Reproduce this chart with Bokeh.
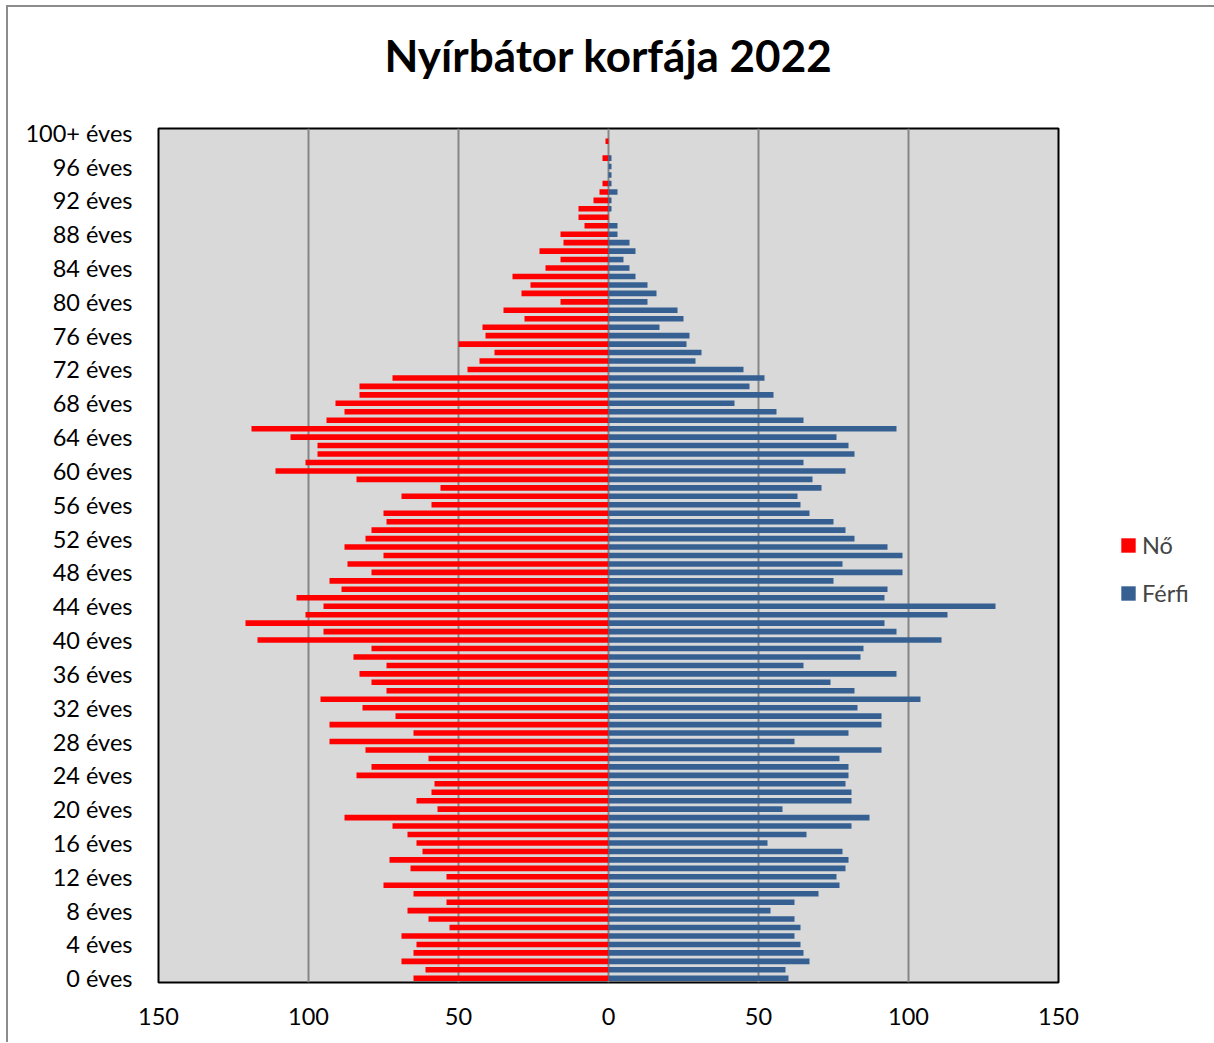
from bokeh.plotting import figure
from bokeh.models import Legend, LegendItem, FixedTicker, Title
from bokeh.embed import file_html
from bokeh.resources import INLINE

ages = list(range(0, 101))
female = [65, 61, 69, 65, 64, 69, 53, 60, 67, 54,
          65, 75, 54, 66, 73, 62, 64, 67, 72, 88,
          57, 64, 59, 58, 84, 79, 60, 81, 93, 65,
          93, 71, 82, 96, 74, 79, 83, 74, 85, 79,
          117, 95, 121, 101, 95, 104, 89, 93, 79, 87,
          75, 88, 81, 79, 74, 75, 59, 69, 56, 84,
          111, 101, 97, 97, 106, 119, 94, 88, 91, 83,
          83, 72, 47, 43, 38, 50, 41, 42, 28, 35,
          16, 29, 26, 32, 21, 16, 23, 15, 16, 8,
          10, 10, 5, 3, 2, 0, 0, 2, 0, 1, 0]
male = [60, 59, 67, 65, 64, 62, 64, 62, 54, 62,
        70, 77, 76, 79, 80, 78, 53, 66, 81, 87,
        58, 81, 81, 79, 80, 80, 77, 91, 62, 80,
        91, 91, 83, 104, 82, 74, 96, 65, 84, 85,
        111, 96, 92, 113, 129, 92, 93, 75, 98, 78,
        98, 93, 82, 79, 75, 67, 64, 63, 71, 68,
        79, 65, 82, 80, 76, 96, 65, 56, 42, 55,
        47, 52, 45, 29, 31, 26, 27, 17, 25, 23,
        13, 16, 13, 9, 7, 5, 9, 7, 3, 3,
        0, 1, 1, 3, 1, 1, 1, 1, 0, 0, 0]
tick_ages = list(range(0, 101, 4))
tick_labels = {a: (f"{a} éves" if a < 100 else "100+ éves") for a in tick_ages}
x_ticks = [-150, -100, -50, 0, 50, 100, 150]
x_labels = {t: str(abs(t)) for t in x_ticks}
title_text = "Nyírbátor korfája 2022"
series_names = ["Nő", "Férfi"]

FONT = "Lato"

p = figure(frame_width=900, frame_height=854, output_backend="svg", toolbar_location=None,
           x_range=(-150, 150), y_range=(-0.5, 100.5),
           min_border_left=158, min_border_right=148, min_border_top=128, min_border_bottom=60)
p.background_fill_color = "#d9d9d9"
p.border_fill_color = None
p.outline_line_color = "black"
p.outline_line_width = 2
# thin grey chart border (top and left edges, as in the reference)
p.styles = {"box-shadow": "inset 6px 5px 0 0 white, inset 8px 7px 0 0 #8c8c8c",
            "background-color": "white"}

neg_f = [-v for v in female]
r_f = p.hbar(y=ages, left=neg_f, right=0, height=0.66, fill_color="#ff0000", line_color=None)
r_m = p.hbar(y=ages, left=0, right=male, height=0.66, fill_color="#376092", line_color=None)

p.xgrid.ticker = FixedTicker(ticks=[-100, -50, 0, 50, 100])
p.xgrid.grid_line_color = "#868686"
p.xgrid.grid_line_width = 2
p.ygrid.grid_line_color = None

p.xaxis.ticker = FixedTicker(ticks=x_ticks)
p.xaxis.major_label_overrides = x_labels
p.yaxis.ticker = FixedTicker(ticks=tick_ages)
p.yaxis.major_label_overrides = tick_labels
for ax in (p.xaxis, p.yaxis):
    ax.major_tick_line_color = None
    ax.minor_tick_line_color = None
    ax.major_tick_out = 0
    ax.major_tick_in = 0
    ax.minor_tick_out = 0
    ax.minor_tick_in = 0
    ax.axis_line_color = None
    ax.major_label_text_font = FONT
    ax.major_label_text_font_size = "23.5px"
    ax.major_label_text_color = "black"
p.xaxis.major_label_standoff = 25
p.yaxis.major_label_standoff = 26

p.title = Title(text=title_text, align="center", text_font=FONT, text_font_style="bold",
                text_font_size="44px", text_color="black", standoff=0)
# empty spacer between the title and the plot area
p.add_layout(Title(text=" ", text_font_size="10px", standoff=35), "above")

legend = Legend(items=[LegendItem(label=series_names[0], renderers=[r_f]),
                       LegendItem(label=series_names[1], renderers=[r_m])],
                location=(61, 375), orientation="vertical",
                glyph_width=18, glyph_height=18, spacing=20, padding=0, margin=0,
                label_width=60,
                label_text_font=FONT, label_text_font_size="23.5px", label_standoff=5,
                border_line_color=None, background_fill_alpha=0)
p.add_layout(legend, "right")

open("out.html", "w").write(file_html(p, INLINE))
